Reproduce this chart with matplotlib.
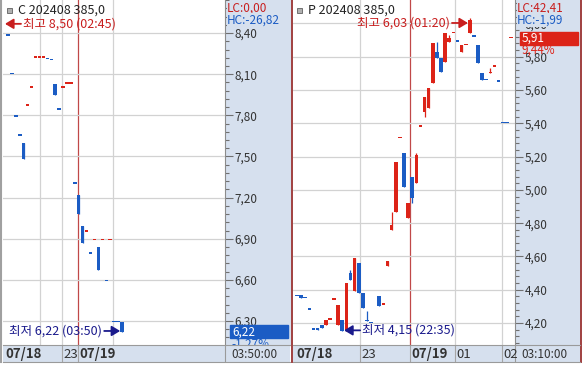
import matplotlib
matplotlib.use("Agg")
import matplotlib.pyplot as plt
from matplotlib.patches import Rectangle
from matplotlib.ticker import MultipleLocator, FuncFormatter

plt.rcParams['font.family'] = ['Noto Sans CJK KR', 'DejaVu Sans']

# ---- left chart: C 202408 385,0 ----
c_slot = list(range(30))
c_open = [8.38, 8.10, 7.79, 7.65, 7.60, 7.87, 8.00, 8.22, 8.22, 8.22, 8.21, 8.20, 8.03, 7.84, 8.00,
          8.03, 8.03, 7.30, 7.22, 6.99, 6.95, 6.79, 6.89, 6.84, 6.89, 6.59, 6.89, 6.29, 6.29, 6.29]
c_close = [8.38, 8.10, 7.79, 7.65, 7.48, 7.87, 8.00, 8.22, 8.22, 8.22, 8.21, 8.20, 7.95, 7.84, 8.00,
           8.03, 8.03, 7.30, 7.08, 6.87, 6.95, 6.79, 6.89, 6.67, 6.89, 6.59, 6.89, 6.29, 6.29, 6.22]
c_high = [8.38, 8.10, 7.79, 7.65, 7.60, 7.87, 8.00, 8.22, 8.22, 8.22, 8.21, 8.20, 8.03, 7.84, 8.00,
          8.03, 8.03, 7.30, 7.22, 6.99, 6.95, 6.79, 6.89, 6.84, 6.89, 6.59, 6.89, 6.29, 6.29, 6.29]
c_low = [8.38, 8.10, 7.79, 7.65, 7.48, 7.87, 8.00, 8.22, 8.22, 8.22, 8.21, 8.20, 7.95, 7.84, 8.00,
         8.03, 8.03, 7.30, 7.08, 6.87, 6.95, 6.79, 6.89, 6.67, 6.89, 6.59, 6.89, 6.29, 6.29, 6.22]
c_grid = [8.1, 13.7, 26.7]
c_day = 17.8
c_date_pos = [-1.1, 13.7, 17.8]
c_date_lbl = ['07/18', '23', '07/19']

# ---- right chart: P 202408 385,0 ----
p_slot = list(range(19)) + list(range(20, 53))
p_open = [4.36, 4.37, 4.35, 4.28, 4.16, 4.17, 4.19, 4.19, 4.22, 4.34, 4.19, 4.22, 4.15, 4.50, 4.39, 4.56, 4.38, 4.22, 4.20,
          4.36, 4.31, 4.54, 4.76, 4.87, 5.31, 5.22, 4.83, 5.08, 5.04, 5.38, 5.47, 5.49, 5.64, 5.83, 5.79, 5.77, 5.89,
          5.94, 5.89, 5.83, 5.87, 5.94, 5.92, 5.87, 5.70, 5.66, 5.70, 5.74, 5.65, 5.40, 5.40, 5.91]
p_close = [4.36, 4.35, 4.35, 4.28, 4.16, 4.16, 4.17, 4.22, 4.22, 4.34, 4.31, 4.15, 4.44, 4.46, 4.59, 4.38, 4.29, 4.21, 4.20,
           4.30, 4.31, 4.57, 4.79, 5.17, 5.31, 5.02, 4.92, 4.95, 5.21, 5.38, 5.56, 5.61, 5.88, 5.79, 5.71, 5.94, 5.91,
           5.94, 5.89, 5.87, 5.87, 6.02, 5.92, 5.76, 5.66, 5.66, 5.71, 5.74, 5.65, 5.40, 5.40, 5.91]
p_high = [4.36, 4.37, 4.35, 4.28, 4.16, 4.17, 4.19, 4.22, 4.22, 4.34, 4.31, 4.22, 4.44, 4.52, 4.59, 4.56, 4.38, 4.27, 4.20,
          4.36, 4.31, 4.57, 4.87, 5.17, 5.31, 5.22, 4.92, 5.08, 5.22, 5.38, 5.56, 5.61, 5.88, 5.89, 5.79, 5.94, 5.93,
          5.94, 5.89, 5.87, 5.87, 6.03, 5.92, 5.87, 5.70, 5.66, 5.73, 5.74, 5.65, 5.40, 5.40, 5.91]
p_low = [4.36, 4.35, 4.35, 4.28, 4.16, 4.16, 4.17, 4.19, 4.22, 4.34, 4.19, 4.15, 4.15, 4.46, 4.39, 4.38, 4.29, 4.21, 4.20,
         4.30, 4.31, 4.54, 4.76, 4.87, 5.31, 5.02, 4.83, 4.92, 5.04, 5.38, 5.44, 5.49, 5.64, 5.79, 5.71, 5.77, 5.89,
         5.94, 5.89, 5.83, 5.87, 5.94, 5.92, 5.76, 5.66, 5.66, 5.70, 5.74, 5.65, 5.40, 5.40, 5.91]
p_grid = [15.3, 38.4, 49.8]
p_day = 27.45
p_date_pos = [-0.55, 15.3, 27.45, 38.4, 49.8]
p_date_lbl = ['07/18', '23', '07/19', '01', '02']

W, H = 582, 367
PLOT_H = 345
STRIP_W = 65
STRIP = '#d6e0ee'
RED = '#dc2318'
BLUE = '#1b5cc4'
NAVY = '#1a1a8c'
GRID = '#d2d2d2'

fig = plt.figure(figsize=(W / 100, H / 100), dpi=100)
fig.patch.set_facecolor('white')


def frac(x0, y0, x1, y1):
    return [x0 / W, 1 - y1 / H, (x1 - x0) / W, (y1 - y0) / H]


def fmt(v):
    return f"{v:.2f}".replace('.', ',')


def bar_colors(o, c):
    cols = []
    prev_c, prev_col = None, BLUE
    for oo, cc in zip(o, c):
        if cc > oo:
            col = RED
        elif cc < oo:
            col = BLUE
        elif prev_c is None or cc == prev_c:
            col = prev_col
        else:
            col = RED if cc > prev_c else BLUE
        cols.append(col)
        prev_c, prev_col = cc, col
    return cols


bg = fig.add_axes([0, 0, 1, 1], zorder=-1)
bg.set_xlim(0, W)
bg.set_ylim(H, 0)
bg.axis('off')
bg.add_patch(Rectangle((225, 0), STRIP_W, PLOT_H, color=STRIP))
bg.add_patch(Rectangle((515, 0), STRIP_W, PLOT_H, color=STRIP))
bg.plot([1, 1], [0, 362], color='#a0a0a0', lw=1.5)
bg.plot([291.5, 291.5], [0, 362], color='#a04040', lw=1.4)
bg.plot([580.5, 580.5], [0, 362], color='#a04040', lw=1.4)


def arrow_text(ax, x, xc, y, txt, color, side):
    sgn = -1 if side == 'left' else 1
    ax.annotate('', xy=(x, y), xycoords=(xc, 'data'), xytext=(sgn * 16, 0),
                textcoords='offset pixels',
                arrowprops=dict(arrowstyle='-|>,head_length=0.5,head_width=0.3', color=color,
                                lw=1.3, shrinkA=0, shrinkB=0, mutation_scale=10), zorder=5)
    ax.annotate(txt, xy=(x, y), xycoords=(xc, 'data'), xytext=(sgn * 18, 0),
                textcoords='offset pixels', ha='right' if side == 'left' else 'left',
                va='center', color=color, fontsize=9, zorder=5)


def chart(x0, x1, first_px, pitch, ylo, yhi, major, minor, slots, o, c, hi, lo,
          grid, day, date_pos, date_lbl, title, top, top_txt, top_slot, top_side,
          low, low_txt, low_slot, low_side, lc, hc, pct, clock):
    xlo = -(first_px - x0) / pitch
    xhi = xlo + (x1 - x0) / pitch
    upp = (yhi - ylo) / PLOT_H
    pw = x1 - x0

    ax = fig.add_axes(frac(x0, 0, x1, PLOT_H), zorder=1)
    ax.set_facecolor('white')
    ax.set_xlim(xlo, xhi)
    ax.set_ylim(ylo, yhi)
    for s in ['top', 'left', 'bottom']:
        ax.spines[s].set_visible(False)
    ax.spines['right'].set_color('#8c8c8c')
    ax.spines['right'].set_linewidth(0.8)
    ax.set_xticks([])
    ax.yaxis.tick_right()
    ax.yaxis.set_major_locator(MultipleLocator(major))
    ax.yaxis.set_minor_locator(MultipleLocator(minor))
    ax.yaxis.set_major_formatter(FuncFormatter(lambda v, p: fmt(v)))
    ax.tick_params(axis='y', which='major', length=6, width=0.8, color='#707070',
                   labelsize=8.5, labelcolor='#333333', pad=1)
    ax.tick_params(axis='y', which='minor', length=3, width=0.8, color='#707070')
    ax.grid(axis='y', which='major', color=GRID, lw=0.9, zorder=0)
    for g in grid:
        ax.axvline(g, color=GRID, lw=0.9, zorder=0.5)
    ax.axvline(day, color='#c04848', lw=0.9, zorder=0.5)

    cols = bar_colors(o, c)
    bottoms = [min(a, b) for a, b in zip(o, c)]
    heights = [max(abs(b - a), 1.4 * upp) for a, b in zip(o, c)]
    ax.vlines(slots, lo, hi, colors=cols, lw=0.9, zorder=2.9)
    ax.bar(slots, heights, bottom=bottoms, width=0.88, color=cols, linewidth=0, zorder=3)

    # title
    ax.add_patch(Rectangle((4 / pw, 1 - 12.5 / PLOT_H), 5 / pw, 5 / PLOT_H, transform=ax.transAxes,
                           fc='#b0b0b0', ec='#606060', lw=0.6, zorder=5))
    ax.text(15 / pw, 1 - 10 / PLOT_H, title, transform=ax.transAxes, fontsize=9,
            color='#222222', va='center', zorder=5)

    # high / low markers
    if top_slot is None:
        arrow_text(ax, 2 / pw, 'axes fraction', top - 4.5 * upp, top_txt, '#c81e1e', top_side)
    else:
        arrow_text(ax, top_slot - 0.45, 'data', top - 4.5 * upp, top_txt, '#c81e1e', top_side)
    tip = low_slot - 0.45 if low_side == 'left' else low_slot + 0.45
    arrow_text(ax, tip, 'data', low + 1 * upp, low_txt, NAVY, low_side)

    # axis strip texts
    ax.text(1 + 2 / pw, 1 - 8 / PLOT_H, 'LC:' + lc, transform=ax.transAxes, color='#c81e1e',
            fontsize=8.5, va='center', zorder=5,
            bbox=dict(facecolor=STRIP, edgecolor='none', pad=0.3))
    ax.text(1 + 2 / pw, 1 - 20 / PLOT_H, 'HC:' + hc, transform=ax.transAxes, color=BLUE,
            fontsize=8.5, va='center', zorder=5,
            bbox=dict(facecolor=STRIP, edgecolor='none', pad=0.3))

    last = c[-1]
    box_col = BLUE if pct.startswith('-') else RED
    yt = ax.get_yaxis_transform()
    ax.add_patch(Rectangle((1 + 5 / pw, last - 6.5 * upp), 58 / pw, 13 * upp, transform=yt,
                           color=box_col, clip_on=False, zorder=4))
    ax.text(1 + 7 / pw, last, fmt(last), transform=yt, color='white', fontsize=8.5,
            va='center', zorder=5)
    ax.text(1 + 6 / pw, last - 12 * upp, pct, transform=yt, color=box_col, fontsize=8.5,
            va='center', zorder=4.5)

    # bottom date strip
    sx = fig.add_axes(frac(x0, PLOT_H, x1 + STRIP_W, 362), zorder=2)
    sx.set_facecolor(STRIP)
    sx.set_xlim(xlo, xlo + (x1 + STRIP_W - x0) / pitch)
    sx.set_ylim(0, 1)
    sx.set_xticks([])
    sx.set_yticks([])
    for s in ['left', 'right']:
        sx.spines[s].set_visible(False)
    for s in ['top', 'bottom']:
        sx.spines[s].set_color('#9a9a9a')
        sx.spines[s].set_linewidth(0.8)
    for p, t in zip(date_pos, date_lbl):
        sx.text(p + 0.35, 0.45, t, fontsize=9.5, fontweight='bold' if '/' in t else 'normal',
                color='#333333', va='center')
    for p in date_pos[1:]:
        sx.axvline(p, color='#a5a5a5', lw=0.8)
    sx.axvline(xhi, color='#9a9a9a', lw=0.8)
    sx.text(xhi + 29 / pitch, 0.45, clock, fontsize=8.5, color='#333333', ha='center', va='center')
    return ax


chart(3, 225, 8, 3.93, 6.125, 8.641, 0.30, 0.06, c_slot, c_open, c_close, c_high, c_low,
      c_grid, c_day, c_date_pos, c_date_lbl, 'C 202408 385,0',
      8.50, '최고 8,50 (02:45)', None, 'right',
      6.22, '최저 6,22 (03:50)', 29, 'left',
      '0,00', '-26,82', '-1,27%', '03:50:00')

chart(293, 515, 297, 4.115, 4.068, 6.141, 0.20, 0.04, p_slot, p_open, p_close, p_high, p_low,
      p_grid, p_day, p_date_pos, p_date_lbl, 'P 202408 385,0',
      6.03, '최고 6,03 (01:20)', 42, 'left',
      4.15, '최저 4,15 (22:35)', 11, 'right',
      '42,41', '-1,99', '9,44%', '03:10:00')

fig.savefig('out.png', dpi=100, facecolor='white')
